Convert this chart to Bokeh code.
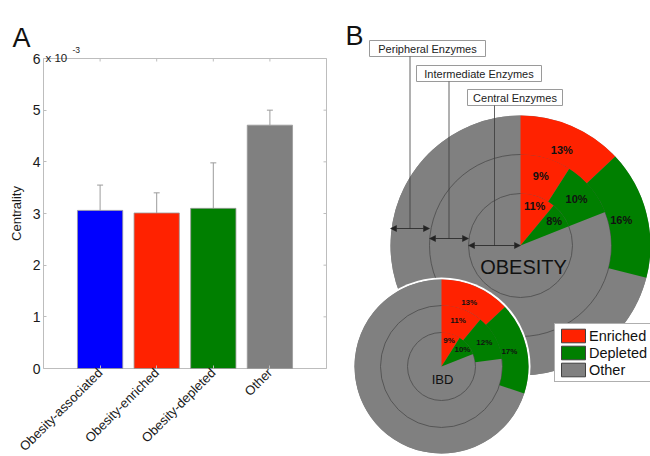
import math
from bokeh.plotting import figure
from bokeh.models import (ColumnDataSource, Range1d, LinearAxis, FixedTicker, Whisker, TeeHead,
                          Legend, LegendItem, Arrow, NormalHead)
from bokeh.core.properties import value
from bokeh.embed import file_html
from bokeh.resources import INLINE

FONT = "Liberation Sans"

# ---------------- Panel A data ----------------
categories = ["Obesity-associated", "Obesity-enriched", "Obesity-depleted", "Other"]
centrality = [3.06, 3.01, 3.10, 4.71]          # in units of 10^-3
centrality_err = [0.49, 0.39, 0.88, 0.29]      # upper error (10^-3)
bar_colors = ["#0000ff", "#ff2200", "#007f00", "#808080"]
y_ticks = [0, 1, 2, 3, 4, 5, 6]

# ---------------- Panel B data ----------------
ring_names = ["Central Enzymes", "Intermediate Enzymes", "Peripheral Enzymes"]
obesity_enriched = [11, 9, 13]
obesity_depleted = [8, 10, 16]
ibd_enriched = [9, 11, 13]
ibd_depleted = [10, 12, 17]
legend_labels = ["Enriched", "Depleted", "Other"]

RED, GREEN, GREY = "#ff2200", "#007f00", "#808080"
TXT = "#1a1a1a"

# ---------------- canvas (page-pixel coordinates, y downward as negative) ----------------
W, H = 650, 456
p = figure(width=W, height=H, x_range=Range1d(0, W), y_range=Range1d(-H, 0),
           x_axis_type=None, y_axis_type=None, output_backend="svg",
           toolbar_location=None, min_border=0)
p.outline_line_color = None
p.background_fill_color = "white"
p.border_fill_color = "white"

# ================= Panel A (own scales mapped onto the left part) =================
A_L, A_R, A_T, A_B = 43, 326, 58, 368          # axes box in page px
AX0, AX1 = 0, len(categories) + 1              # x data extent (bars at 1..n)
AY0, AY1 = y_ticks[0], y_ticks[-1]
SX = (A_R - A_L) / (AX1 - AX0)
SY = (A_B - A_T) / (AY1 - AY0)
p.extra_x_ranges = {"ax": Range1d(AX0 - A_L / SX, AX1 + (W - A_R) / SX)}
p.extra_y_ranges = {"ay": Range1d(AY0 - (H - A_B) / SY, AY1 + A_T / SY)}
AR = dict(x_range_name="ax", y_range_name="ay")

x_pos = list(range(1, len(categories) + 1))
srcA = ColumnDataSource(dict(
    x=x_pos, val=centrality, color=bar_colors,
    upper=[v + e for v, e in zip(centrality, centrality_err)]))

# axes box
p.quad(left=[AX0], right=[AX1], bottom=[AY0], top=[AY1], fill_color=None,
       line_color="#bdbdbd", line_width=1, **AR)

p.vbar(x="x", top="val", width=0.8, fill_color="color", line_color="#9a9a9a",
       line_width=0.8, source=srcA, **AR)
p.add_layout(Whisker(source=srcA, base="x", upper="upper", lower="val",
                     line_color="#9c9c9c", line_width=1,
                     upper_head=TeeHead(size=6, line_color="#9c9c9c", line_width=1),
                     lower_head=None, **AR))

ya = LinearAxis(fixed_location=AX0, ticker=FixedTicker(ticks=y_ticks),
                major_tick_in=3, major_tick_out=0, major_tick_line_color="#bdbdbd",
                minor_tick_line_color=None, axis_line_color=None,
                major_label_text_font=FONT, major_label_text_font_size="14px",
                major_label_text_color=TXT, major_label_standoff=3, **AR)
p.add_layout(ya, "left")
xa = LinearAxis(fixed_location=AY0, ticker=FixedTicker(ticks=x_pos),
                major_label_overrides={x: c for x, c in zip(x_pos, categories)},
                major_label_orientation=math.pi / 4,
                major_tick_in=3, major_tick_out=0, major_tick_line_color="#bdbdbd",
                minor_tick_line_color=None, axis_line_color=None,
                major_label_text_font=FONT, major_label_text_font_size="13px",
                major_label_text_color=TXT, major_label_standoff=2, **AR)
p.add_layout(xa, "below")

# inner ticks on top and right edges of the box
p.segment(x0=x_pos, y0=[AY1] * len(x_pos), x1=x_pos, y1=[AY1 - 3 / SY] * len(x_pos),
          line_color="#bdbdbd", line_width=1, **AR)
p.segment(x0=[AX1] * len(y_ticks), y0=y_ticks, x1=[AX1 - 3 / SX] * len(y_ticks), y1=y_ticks,
          line_color="#bdbdbd", line_width=1, **AR)

# texts of panel A (page px)
p.text(x=[16], y=[-(A_T + A_B) / 2], text=["Centrality"], angle=math.pi / 2,
       text_font=value(FONT), text_font_size="13px", text_align="center",
       text_baseline="middle", text_color=TXT)
p.text(x=[12], y=[-37], text=["A"], text_font=value(FONT), text_font_size="27px",
       text_baseline="alphabetic", text_color="#111111")
p.text(x=[45], y=[-57], text=["x 10"], text_font=value(FONT), text_font_size="11.5px",
       text_baseline="alphabetic", text_color=TXT)
p.text(x=[72], y=[-49], text=["-3"], text_font=value(FONT), text_font_size="8.5px",
       text_baseline="alphabetic", text_color=TXT)

# ================= Panel B =================
TOP = math.pi / 2


def polar_chart(cx, cy, radii, enriched, depleted, label_px, gap=None):
    inner = [0] + list(radii[:-1])
    oth = dict(x=[], y=[], ir=[], orr=[], sa=[], ea=[])
    col = dict(x=[], y=[], ir=[], orr=[], sa=[], ea=[], c=[])
    lab = dict(x=[], y=[], t=[])
    for r0, r1, ep, dp in zip(inner, radii, enriched, depleted):
        e = ep / 100 * 2 * math.pi
        d = dp / 100 * 2 * math.pi
        for s, en, c in [(TOP - e, TOP, RED), (TOP - e - d, TOP - e, GREEN)]:
            for k, v in zip(("x", "y", "ir", "orr", "sa", "ea", "c"), (cx, cy, r0, r1, s, en, c)):
                col[k].append(v)
        for k, v in zip(("x", "y", "ir", "orr", "sa", "ea"),
                        (cx, cy, r0, r1, TOP - 2 * math.pi, TOP - e - d)):
            oth[k].append(v)
        for pct, ang in [(ep, TOP - e / 2), (dp, TOP - e - d / 2)]:
            lab["x"].append(cx + 0.8 * r1 * math.cos(ang))
            lab["y"].append(cy + 0.8 * r1 * math.sin(ang))
            lab["t"].append(f"{pct}%")
    if gap:
        p.circle(x=[cx], y=[cy], radius=radii[-1] + gap, fill_color="white", line_color=None)
    p.circle(x=[cx], y=[cy], radius=radii[-1], fill_color=GREY, line_color=None)
    p.annular_wedge(x="x", y="y", inner_radius="ir", outer_radius="orr",
                    start_angle="sa", end_angle="ea", fill_color=GREY,
                    line_color=None, source=ColumnDataSource(oth))
    p.circle(x=[cx] * 2, y=[cy] * 2, radius=list(radii[:2]), fill_color=None,
             line_color="#4a4a4a", line_width=0.8)
    p.annular_wedge(x="x", y="y", inner_radius="ir", outer_radius="orr",
                    start_angle="sa", end_angle="ea", fill_color="c",
                    line_color=None, source=ColumnDataSource(col))
    p.text(x="x", y="y", text="t", source=ColumnDataSource(lab), text_font=value(FONT),
           text_font_style="bold", text_font_size=f"{label_px}px", text_align="center",
           text_baseline="middle", text_color="#111111")


# ---- OBESITY
OB_C = (520, -245)
OB_R = (52, 91, 130)
polar_chart(OB_C[0], OB_C[1], OB_R, obesity_enriched, obesity_depleted, 11)
p.text(x=[OB_C[0] + 3], y=[OB_C[1] - 21], text=["OBESITY"], text_font=value(FONT),
       text_font_size="20px", text_align="center", text_baseline="middle", text_color="#111111")

# ring annotations (boxes, leader lines, arrows)
boxes = [(467, 562, -89, -105), (416, 541, -65, -81), (369, 485, -40, -56)]
arrow_y = [-245, -238, -228]
ob_inner = [0] + list(OB_R[:-1])
p.quad(left=[b[0] for b in boxes], right=[b[1] for b in boxes],
       top=[b[2] for b in boxes], bottom=[b[3] for b in boxes],
       fill_color="white", line_color="#9a9a9a", line_width=1)
p.text(x=[(b[0] + b[1]) / 2 for b in boxes], y=[(b[2] + b[3]) / 2 for b in boxes],
       text=ring_names, text_font=value(FONT), text_font_size="11px",
       text_align="center", text_baseline="middle", text_color="#222222")
lx = [OB_C[0] - (r0 + r1) / 2 for r0, r1 in zip(ob_inner, OB_R)]
p.segment(x0=lx, y0=[b[3] for b in boxes], x1=lx, y1=arrow_y,
          line_color="#3a3a3a", line_width=0.8)
for r0, r1, yy in zip(ob_inner, OB_R, arrow_y):
    p.add_layout(Arrow(x_start=OB_C[0] - r1, x_end=OB_C[0] - r0, y_start=yy, y_end=yy,
                       line_color="#222222", line_width=0.8,
                       start=NormalHead(size=6, fill_color="#222222", line_color="#222222", line_width=0.5),
                       end=NormalHead(size=6, fill_color="#222222", line_color="#222222", line_width=0.5)))

# ---- IBD
IBD_C = (441, -366)
IBD_R = (34, 61, 87)
polar_chart(IBD_C[0], IBD_C[1], IBD_R, ibd_enriched, ibd_depleted, 8, gap=2)
p.text(x=[IBD_C[0] + 1], y=[IBD_C[1] - 13], text=["IBD"], text_font=value(FONT),
       text_font_size="13px", text_align="center", text_baseline="middle", text_color="#111111")

p.text(x=[345], y=[-35], text=["B"], text_font=value(FONT), text_font_size="27px",
       text_baseline="alphabetic", text_color="#111111")

# ---- legend (swatch glyphs carry no visible geometry)
nan = float("nan")
leg_r = [p.quad(left=[nan], right=[nan], top=[nan], bottom=[nan], fill_color=c,
                line_color="#404040", line_width=1) for c in (RED, GREEN, GREY)]
legend = Legend(items=[LegendItem(label=l, renderers=[r]) for l, r in zip(legend_labels, leg_r)],
                location=(554, H - 382), margin=0, padding=3, spacing=0,
                glyph_width=30, glyph_height=17, label_height=17, label_standoff=1,
                label_text_font=FONT, label_text_font_size="14.5px", label_text_color="#111111",
                border_line_color="#606060", border_line_width=1,
                background_fill_color="white", background_fill_alpha=1)
p.add_layout(legend)

open("out.html", "w").write(file_html(p, INLINE))
